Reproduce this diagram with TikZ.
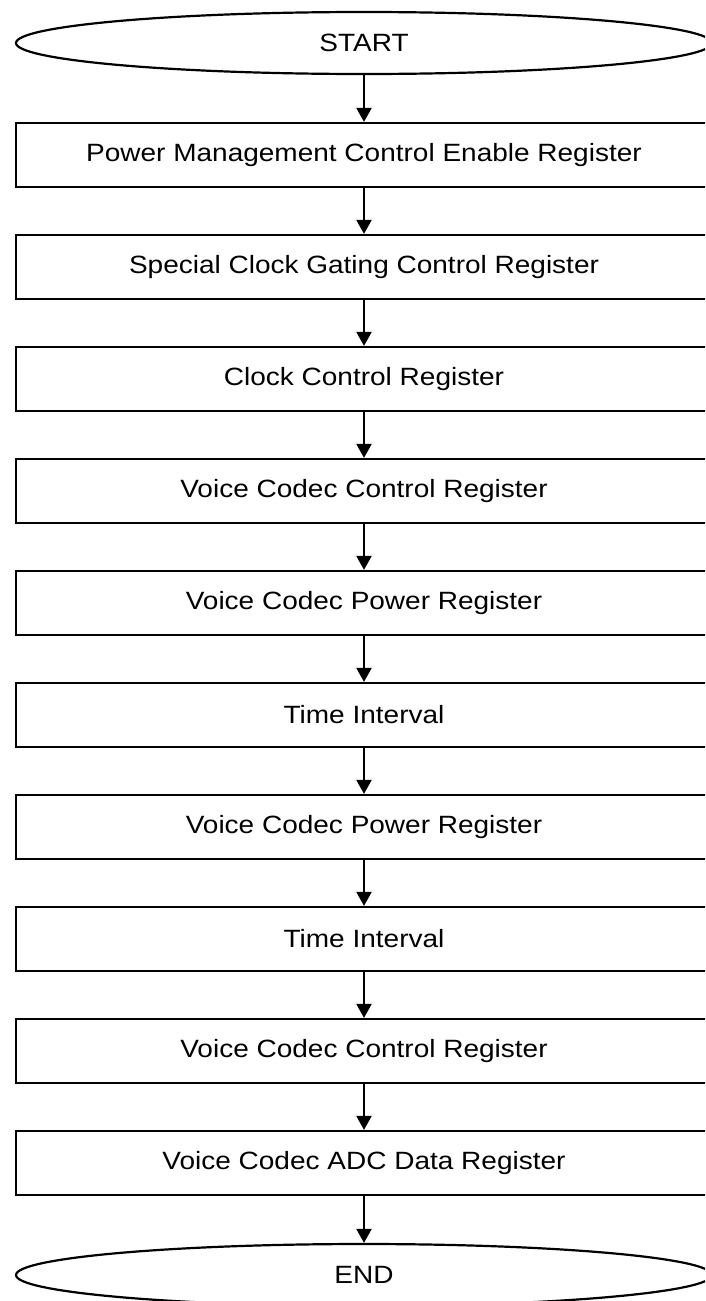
\documentclass[tikz,border=0pt]{standalone}
\usepackage{fontspec}
\setmainfont{Liberation Sans}[FakeStretch=1.12]
\usepackage{tikz}
\usetikzlibrary{arrows.meta,shapes.geometric}
\usepackage{xcolor}

\begin{document}
\begin{tikzpicture}[x=1pt,y=1pt,>={Triangle[length=14pt,width=15pt]},line width=2.2pt,
  font=\fontsize{25}{30}\selectfont,
  regbox/.style={draw,rectangle,minimum width=696pt,minimum height=64pt,inner sep=0pt},
  terminal/.style={draw,ellipse,minimum width=696pt,minimum height=62pt,inner sep=0pt}]
\useasboundingbox (0,0) rectangle (705,-1301);
\clip (0,0) rectangle (705,-1301);
\node[terminal] (start) at (364,-43) {START};
\node[regbox] (pmce) at (364,-155) {Power Management Control Enable Register};
\node[regbox] (sclk) at (364,-267) {Special Clock Gating Control Register};
\node[regbox] (clkctl) at (364,-379) {Clock Control Register};
\node[regbox] (vcctl) at (364,-491) {Voice Codec Control Register};
\node[regbox] (vcpwr) at (364,-603) {Voice Codec Power Register};
\node[regbox] (wait) at (364,-715) {Time Interval};
\node[regbox] (vcpwrb) at (364,-827) {Voice Codec Power Register};
\node[regbox] (waitb) at (364,-939) {Time Interval};
\node[regbox] (vcctlb) at (364,-1051) {Voice Codec Control Register};
\node[regbox] (vcadc) at (364,-1163) {Voice Codec ADC Data Register};
\node[terminal] (finish) at (364,-1275) {END};
\draw[->] (start) -- (pmce);
\draw[->] (pmce) -- (sclk);
\draw[->] (sclk) -- (clkctl);
\draw[->] (clkctl) -- (vcctl);
\draw[->] (vcctl) -- (vcpwr);
\draw[->] (vcpwr) -- (wait);
\draw[->] (wait) -- (vcpwrb);
\draw[->] (vcpwrb) -- (waitb);
\draw[->] (waitb) -- (vcctlb);
\draw[->] (vcctlb) -- (vcadc);
\draw[->] (vcadc) -- (finish);
\end{tikzpicture}
\end{document}
